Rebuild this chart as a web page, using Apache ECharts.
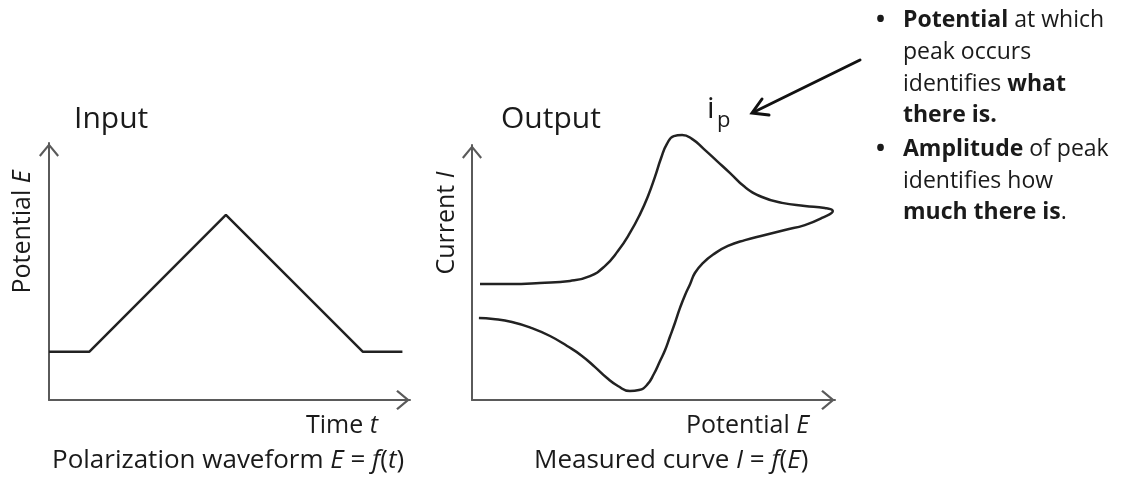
<!DOCTYPE html>
<html>
<head>
<meta charset="utf-8">
<script src="https://cdn.jsdelivr.net/npm/echarts@6/dist/echarts.min.js"></script>
<style>
  html, body { margin: 0; padding: 0; background: #ffffff; }
  #chart { width: 1121px; height: 484px; }
</style>
</head>
<body>
<div id="chart"></div>
<script>
// Input: triangular polarization waveform, potential E vs time t (arbitrary units)
const inputTime = [0, 1.12, 4.90, 8.69, 9.79];
const inputPotential = [1.88, 1.88, 7.20, 1.88, 1.88];

// Output: cyclic voltammogram, current I vs potential E (forward sweep, then reverse)
const cvPotential = [
  0.22, 1.05, 1.87, 2.70, 3.25, 3.66, 4.02, 4.35, 4.63, 4.85, 5.04, 5.21, 5.37,
  5.56, 5.79, 6.06, 6.39, 6.75, 7.11, 7.52, 7.99, 8.54, 9.17, 9.72, 9.94,
  9.64, 9.17, 8.62, 8.07, 7.52, 7.05, 6.67, 6.36, 6.14, 6.01, 5.87, 5.73, 5.59,
  5.45, 5.32, 5.18, 5.01, 4.82, 4.60, 4.35, 4.02, 3.72, 3.39, 3.03, 2.62, 2.15,
  1.65, 1.10, 0.58, 0.19
];
const cvCurrent = [
  4.55, 4.55, 4.59, 4.67, 4.86, 5.25, 5.84, 6.55, 7.29, 8.00, 8.75, 9.49, 10.04,
  10.35, 10.39, 10.24, 9.84, 9.37, 8.90, 8.35, 7.96, 7.73, 7.61, 7.53, 7.41,
  7.14, 6.86, 6.67, 6.47, 6.27, 6.04, 5.73, 5.37, 4.98, 4.55, 4.12, 3.61, 3.02,
  2.47, 1.96, 1.53, 1.02, 0.59, 0.39, 0.35, 0.55, 0.86, 1.29, 1.73, 2.12, 2.51,
  2.82, 3.06, 3.18, 3.22
];

const FONT = 'Open Sans';
const INK = '#1a1a1a';
const AXIS_COLOR = '#5a5a5a';
const CURVE_COLOR = '#222222';

// open chevron arrowhead for axis ends
const chevron = 'path://M0,12 L10,0 L20,12 L18.4,13.6 L10,3.4 L1.6,13.6 Z';

function arrowAxis(gridIndex) {
  return {
    type: 'value', gridIndex: gridIndex, min: 0, max: 10,
    axisLine: {
      show: true, onZero: false,
      lineStyle: { color: AXIS_COLOR, width: 2 },
      symbol: ['none', chevron], symbolSize: [20, 14], symbolOffset: [0, -7]
    },
    axisTick: { show: false }, axisLabel: { show: false }, splitLine: { show: false }
  };
}

function italic(size) { return { fontSize: size, fontFamily: FONT, fontStyle: 'italic', fill: INK }; }
function bold(size) { return { fontSize: size, fontFamily: FONT, fontWeight: 'bold', fill: INK }; }

function label(text, x, y, size, opts) {
  opts = opts || {};
  return {
    type: 'text', x: x, y: y, rotation: opts.rotation || 0,
    style: {
      text: text, fontSize: size, fontFamily: FONT, fill: INK,
      fontWeight: opts.weight || 'normal',
      align: opts.align || 'left', verticalAlign: 'middle',
      rich: { i: italic(size), b: bold(size) }
    }
  };
}

const chart = echarts.init(document.getElementById('chart'), null, { renderer: 'canvas' });

const bulletSize = 23;
const bulletLines = [
  ['{b|Potential} at which', 20],
  ['peak occurs', 52],
  ['identifies {b|what}', 84],
  ['{b|there is.}', 115],
  ['{b|Amplitude} of peak', 149],
  ['identifies how', 181],
  ['{b|much there is}.', 212]
];

const graphics = [
  label('Input', 74, 119, 30),
  label('Output', 501, 119, 30),
  label('Time {i|t}', 306, 426, 25),
  label('Polarization waveform {i|E} = {i|f}({i|t})', 52, 461, 26),
  label('Potential {i|E}', 686, 426, 25),
  label('Measured curve {i|I} = {i|f}({i|E})', 534, 461, 26),
  label('Potential {i|E}', 23, 232, 25, { rotation: Math.PI / 2, align: 'center' }),
  label('Current {i|I}', 447, 223, 25, { rotation: Math.PI / 2, align: 'center' }),
  // peak current label
  label('i', 707, 109, 30),
  label('p', 717, 121, 22),
  // pointer toward the peak current label
  { type: 'line', shape: { x1: 860, y1: 60, x2: 754, y2: 112 },
    style: { stroke: '#111', lineWidth: 3, lineCap: 'round' } },
  { type: 'polyline', shape: { points: [[762, 99], [752, 113], [769, 115]] },
    style: { stroke: '#111', lineWidth: 3, fill: null, lineJoin: 'miter', lineCap: 'round' } },
  label('\u2022', 876, 20, 24, { weight: 'bold' }),
  label('\u2022', 876, 149, 24, { weight: 'bold' })
];
bulletLines.forEach(function (l) { graphics.push(label(l[0], 903, l[1], bulletSize)); });

chart.setOption({
  backgroundColor: '#ffffff',
  animation: false,
  grid: [
    { left: 49, top: 143, width: 361, height: 257 },
    { left: 472, top: 145, width: 363, height: 255 }
  ],
  xAxis: [arrowAxis(0), arrowAxis(1)],
  yAxis: [arrowAxis(0), arrowAxis(1)],
  series: [
    {
      type: 'line', xAxisIndex: 0, yAxisIndex: 0,
      data: inputTime.map(function (t, k) { return [t, inputPotential[k]]; }),
      symbol: 'none', lineStyle: { color: CURVE_COLOR, width: 2.5 }
    },
    {
      type: 'line', xAxisIndex: 1, yAxisIndex: 1, clip: false,
      data: cvPotential.map(function (e, k) { return [e, cvCurrent[k]]; }),
      smooth: 0.5, symbol: 'none', lineStyle: { color: CURVE_COLOR, width: 2.5 }
    }
  ],
  graphic: graphics
});
</script>
</body>
</html>
